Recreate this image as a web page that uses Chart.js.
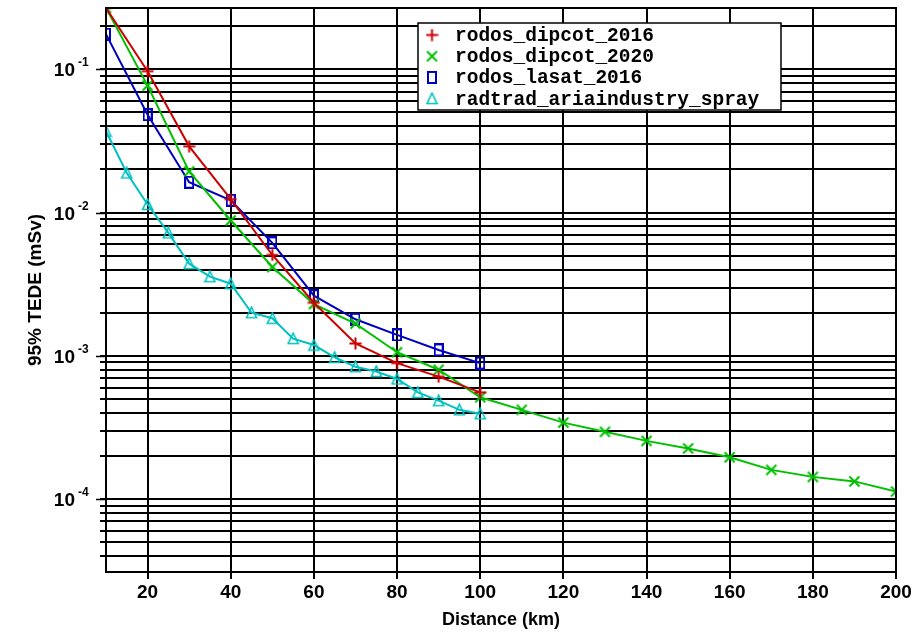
<!DOCTYPE html>
<html>
<head>
<meta charset="utf-8">
<title>95% TEDE vs distance</title>
<style>
  html, body { margin: 0; padding: 0; background: #fff; }
</style>
</head>
<body>
<canvas id="tede-chart" width="912" height="633"></canvas>
<script src="https://cdn.jsdelivr.net/npm/chart.js"></script>
<script>
// distances in km
const dist10 = [10, 20, 30, 40, 50, 60, 70, 80, 90, 100];
const dist200 = [10, 20, 30, 40, 50, 60, 70, 80, 90, 100, 110, 120, 130, 140, 150, 160, 170, 180, 190, 200];
const dist5 = [10, 15, 20, 25, 30, 35, 40, 45, 50, 55, 60, 65, 70, 75, 80, 85, 90, 95, 100];

// 95% TEDE in mSv
const dipcot2016 = [0.268, 0.097, 0.029, 0.0124, 0.00506, 0.00235, 0.00122, 0.00089, 0.000716, 0.000556];
const dipcot2020 = [0.268, 0.077, 0.0194, 0.00881, 0.00417, 0.0023, 0.00168, 0.00106, 0.0008, 0.000514,
                    0.00042, 0.000342, 0.000295, 0.000255, 0.000226, 0.000196, 0.00016, 0.000143, 0.000133, 0.000113];
const lasat2016 = [0.176, 0.0482, 0.0163, 0.0122, 0.00615, 0.00263, 0.0018, 0.0014, 0.0011, 0.00089];
const radtrad = [0.037, 0.0189, 0.0114, 0.00722, 0.0044, 0.00357, 0.00319, 0.002, 0.00183, 0.00132,
                 0.00119, 0.000975, 0.00084, 0.000778, 0.00069, 0.000556, 0.000487, 0.00042, 0.000394];

const seriesNames = ["rodos_dipcot_2016", "rodos_dipcot_2020", "rodos_lasat_2016", "radtrad_ariaindustry_spray"];
const seriesColors = ["#cc0000", "#00c000", "#0000c0", "#00c0c0"];
const seriesMarkers = ["plus", "cross", "rect", "triangle"];

const xTicks = [20, 40, 60, 80, 100, 120, 140, 160, 180, 200];
const yDecades = [1e-5, 1e-4, 1e-3, 1e-2, 1e-1];
const yMantissas = [1, 2, 3, 4, 5, 6, 7, 8, 9];
const yLabelled = [1e-4, 1e-3, 1e-2, 1e-1];
const yLabelExp = ["-4", "-3", "-2", "-1"];
const yMin = 3.1e-5, yMax = 0.268;

function makeMarker(kind, color) {
    const c = document.createElement("canvas");
    const g = c.getContext("2d");
    if (kind == "rect") { c.width = 10; c.height = 13; }
    else { c.width = 13; c.height = 13; }
    g.strokeStyle = color;
    g.lineWidth = 2;
    g.beginPath();
    if (kind == "plus") {
        g.moveTo(6.5, 0.5); g.lineTo(6.5, 12.5);
        g.moveTo(0.5, 6.5); g.lineTo(12.5, 6.5);
    } else if (kind == "cross") {
        g.moveTo(1.5, 1.5); g.lineTo(11.5, 11.5);
        g.moveTo(11.5, 1.5); g.lineTo(1.5, 11.5);
    } else if (kind == "rect") {
        g.rect(1, 1, 8, 11);
    } else {
        g.lineWidth = 1.6;
        g.moveTo(6.5, 1); g.lineTo(11.5, 11.5); g.lineTo(1.5, 11.5); g.closePath();
    }
    g.stroke();
    return c;
}

const markers = seriesMarkers.map((m, i) => makeMarker(m, seriesColors[i]));

function pts(xs, ys) {
    return xs.map((x, i) => ({x: x, y: ys[i]}));
}

const allX = [dist10, dist200, dist10, dist5];
const allY = [dipcot2016, dipcot2020, lasat2016, radtrad];

const datasets = seriesNames.map((name, i) => ({
    label: name,
    data: pts(allX[i], allY[i]),
    borderColor: seriesColors[i],
    borderWidth: 2,
    pointStyle: markers[i],
    pointRadius: 6,
    tension: 0,
    fill: false
}));

const framePlugin = {
    id: "frame",
    afterDraw(chart) {
        const ctx = chart.ctx;
        const a = chart.chartArea;
        const ys = chart.scales.y;
        ctx.save();
        // plot frame
        ctx.strokeStyle = "#000";
        ctx.lineWidth = 2;
        ctx.strokeRect(a.left, a.top, a.right - a.left, a.bottom - a.top);

        // long ticks + labels for the decades
        ctx.lineWidth = 1.5;
        ctx.fillStyle = "#000";
        yLabelled.forEach((v, i) => {
            const y = Math.round(ys.getPixelForValue(v)) + 0.5;
            ctx.beginPath();
            ctx.moveTo(a.left - 10, y);
            ctx.lineTo(a.left, y);
            ctx.stroke();
            ctx.textBaseline = "middle";
            ctx.textAlign = "right";
            ctx.font = "bold 19px 'Liberation Sans', Arial, sans-serif";
            ctx.fillText("10", 75, y + 1);
            ctx.textAlign = "left";
            ctx.font = "bold 12px 'Liberation Sans', Arial, sans-serif";
            ctx.fillText(yLabelExp[i], 78, y - 7);
        });

        // legend box
        const lx = 418, ly = 23, lw = 363, lh = 87;
        ctx.fillStyle = "#fff";
        ctx.fillRect(lx, ly, lw, lh);
        ctx.lineWidth = 1.5;
        ctx.strokeStyle = "#000";
        ctx.strokeRect(lx, ly, lw, lh);
        ctx.font = "bold 19.5px 'Liberation Mono', 'Courier New', monospace";
        ctx.textAlign = "left";
        ctx.textBaseline = "middle";
        ctx.fillStyle = "#000";
        seriesNames.forEach((name, i) => {
            const ry = 35 + i * 21.2;
            const m = markers[i];
            ctx.drawImage(m, 432 - m.width / 2, ry - m.height / 2);
            ctx.fillText(name, 455, ry + 1);
        });
        ctx.restore();
    }
};

new Chart(document.getElementById("tede-chart"), {
    type: "line",
    data: { datasets: datasets },
    options: {
        responsive: false,
        animation: false,
        layout: { padding: { top: 6, right: 16, left: 0, bottom: 0 } },
        plugins: { legend: { display: false }, tooltip: { enabled: false } },
        scales: {
            x: {
                type: "linear",
                min: 10,
                max: 200,
                afterBuildTicks: (s) => { s.ticks = xTicks.map(v => ({value: v})); },
                afterFit: (s) => { s.height = 61; s.paddingLeft = 0; s.paddingRight = 0; },
                grid: { color: "#000", lineWidth: 2, tickLength: 7, tickColor: "#000" },
                border: { display: true, color: "#000", width: 2 },
                ticks: {
                    color: "#000",
                    padding: 2,
                    maxRotation: 0,
                    font: { family: "'Liberation Sans', Arial, sans-serif", size: 19, weight: "bold" }
                },
                title: {
                    display: true,
                    text: "Distance (km)",
                    color: "#000",
                    padding: { top: 0, bottom: 2 },
                    font: { family: "'Liberation Sans', Arial, sans-serif", size: 18, weight: "bold" }
                }
            },
            y: {
                type: "logarithmic",
                min: yMin,
                max: yMax,
                afterBuildTicks: (s) => {
                    const t = [];
                    yDecades.forEach(d => yMantissas.forEach(m => {
                        const v = d * m;
                        if (v >= yMin && v <= yMax) t.push({value: v});
                    }));
                    s.ticks = t;
                },
                afterFit: (s) => { s.width = 106; },
                grid: { color: "#000", lineWidth: 2, tickLength: 6, tickColor: "#000" },
                border: { display: true, color: "#000", width: 2 },
                ticks: { display: false },
                title: {
                    display: true,
                    text: "95% TEDE (mSv)",
                    color: "#000",
                    padding: { top: 24, bottom: 0 },
                    font: { family: "'Liberation Sans', Arial, sans-serif", size: 19, weight: "bold" }
                }
            }
        }
    },
    plugins: [framePlugin]
});
</script>
</body>
</html>
